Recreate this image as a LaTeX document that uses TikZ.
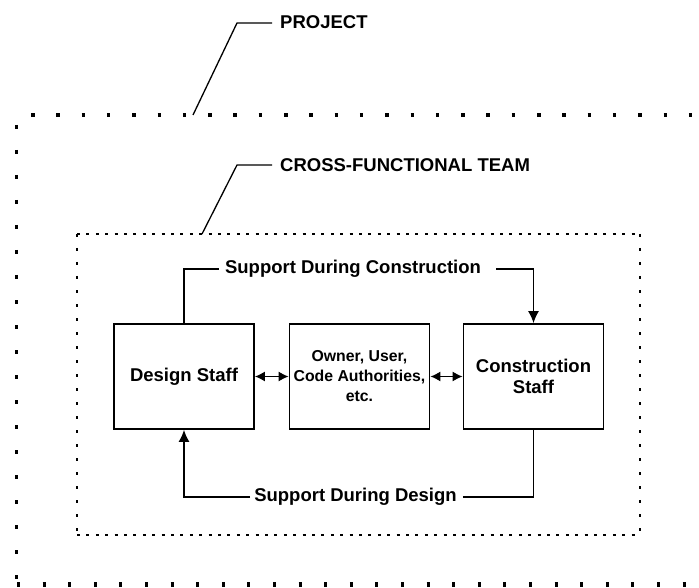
\documentclass[tikz,border=0pt]{standalone}
\usepackage{fontspec}
\setmainfont{Liberation Sans}
\usetikzlibrary{arrows.meta}
\begin{document}
\begin{tikzpicture}[x=1pt,y=-1pt,
  box/.style={draw,line width=1.8pt,minimum width=140pt,minimum height=105pt,
    inner sep=0pt,align=center},
  bigtext/.style={font=\fontsize{18.5}{21}\selectfont\bfseries},
  smalltext/.style={font=\fontsize{15.8}{20}\selectfont\bfseries},
  lab/.style={inner sep=0pt,anchor=west,font=\fontsize{18.5}{22}\selectfont\bfseries},
  wire/.style={line width=1.3pt},
  tip/.style={-{Latex[length=12pt,width=11pt]}},
  both/.style={{Latex[length=10pt,width=10pt]}-{Latex[length=10pt,width=10pt]}},
  bigdots/.style={line width=3.5pt,dash pattern=on 3.5pt off 21.8pt},
  smalldots/.style={line width=1.2pt,dash pattern=on 3pt off 6.4pt},
  vsmalldots/.style={line width=1.2pt,dash pattern=on 3pt off 11pt}]
\useasboundingbox (0,0) rectangle (699,588);

% project boundary (heavy dotted, open on the right)
\draw[bigdots] (31,115) -- (705,115);
\draw[line width=3pt,dash pattern=on 4pt off 21pt] (16,125) -- (16,582);
\draw[line width=5pt,dash pattern=on 3pt off 22.6pt] (17,584) -- (705,584);

% team boundary (fine dotted)
\draw[smalldots] (77,234) -- (640,234);
\draw[smalldots] (77,535) -- (640,535);
\draw[vsmalldots] (77,234) -- (77,535);
\draw[vsmalldots] (640,234) -- (640,535);

% callouts
\node[lab] (proj) at (280,22) {PROJECT};
\coordinate (projfoot) at (193,115);
\coordinate (projknee) at (237,23);
\draw[wire] (projfoot) -- (projknee) -- ([xshift=-8pt]proj.west |- projknee);

\node[lab] (team) at (280,165) {CROSS-FUNCTIONAL TEAM};
\coordinate (teamfoot) at (202,234);
\coordinate (teamknee) at (237,165);
\draw[wire] (teamfoot) -- (teamknee) -- ([xshift=-8pt]team.west |- teamknee);

% participants
\node[box,bigtext] (design) at (184,376.5) {Design Staff};
\node[box,smalltext] (owner) at (359.5,376.5) {Owner, User,\\Code Authorities,\\etc.};
\node[box,bigtext] (constr) at (533.5,376.5) {Construction\\Staff};

\draw[wire,both] (design) -- (owner);
\draw[wire,both] (owner) -- (constr);

% support loops
\node[lab,anchor=center] (sc) at (353,269) {Support During Construction};
\draw[wire] (design.north) |- ([xshift=-6pt]sc.west);
\draw[wire,tip] ([xshift=15pt]sc.east) -| (constr.north);

\node[lab,anchor=center] (sd) at (355.5,497) {Support During Design};
\draw[wire,tip] ([xshift=-4pt]sd.west) -| (design.south);
\draw[wire] ([xshift=6pt]sd.east) -| (constr.south);
\end{tikzpicture}
\end{document}
